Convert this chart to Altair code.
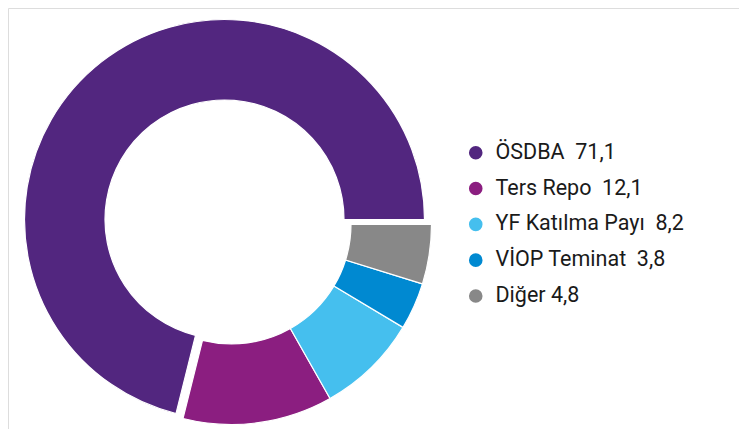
import math
import altair as alt
import pandas as pd

names = ["ÖSDBA", "Ters Repo", "YF Katılma Payı", "VİOP Teminat", "Diğer"]
values = [71.1, 12.1, 8.2, 3.8, 4.8]
seps = ["\u00a0\u00a0", "\u00a0\u00a0", "\u00a0\u00a0", "\u00a0\u00a0", "\u00a0"]
colors = ["#52267f", "#8b1e80", "#45bfee", "#0089d1", "#888888"]
# clockwise order starting at 3 o'clock
clock_order = [5, 4, 3, 2, 1]

labels = [n + s + f"{v:.1f}".replace(".", ",") for n, s, v in zip(names, seps, values)]

df = pd.DataFrame({
    "name": names,
    "value": values,
    "label": labels,
    "ord": clock_order,
})

base = alt.Chart(df).transform_stack(
    stack="value", groupby=[], as_=["v0", "v1"], sort=[alt.SortField("ord", order="ascending")]
)

theta_scale = alt.Scale(domain=[0, 100], range=[math.pi / 2, math.pi / 2 + 2 * math.pi])
color_scale = alt.Scale(domain=labels, range=colors)

legend = alt.Legend(
    title=None,
    orient="none",
    legendX=457,
    legendY=134,
    symbolType="circle",
    symbolSize=185,
    symbolStrokeWidth=0,
    labelFont="Roboto",
    labelFontSize=21.5,
    labelColor="#1a1a1a",
    labelOffset=9,
    rowPadding=12.8,
    labelLimit=400,
)

others = base.transform_filter(alt.datum.name != "ÖSDBA").mark_arc(
    radius=200, radius2=119.5, stroke="white", strokeWidth=1.2
).encode(
    theta=alt.Theta("v0:Q", scale=theta_scale),
    theta2="v1:Q",
    color=alt.Color("label:N", scale=color_scale, legend=legend),
    x=alt.value(223.5),
    y=alt.value(216.5),
)

main = base.transform_filter(alt.datum.name == "ÖSDBA").mark_arc(
    radius=200, radius2=119.5, stroke="white", strokeWidth=1.2
).encode(
    theta=alt.Theta("v0:Q", scale=theta_scale),
    theta2="v1:Q",
    color=alt.Color("label:N", scale=color_scale, legend=legend),
    x=alt.value(216.5),
    y=alt.value(211.5),
)

chart = alt.layer(others, main).properties(
    width=731, height=421, padding=0, autosize=alt.AutoSizeParams(type="none")
).configure_view(stroke=None).configure(background="white")

chart.save("out.html", embed_options={"renderer": "svg", "actions": False})
